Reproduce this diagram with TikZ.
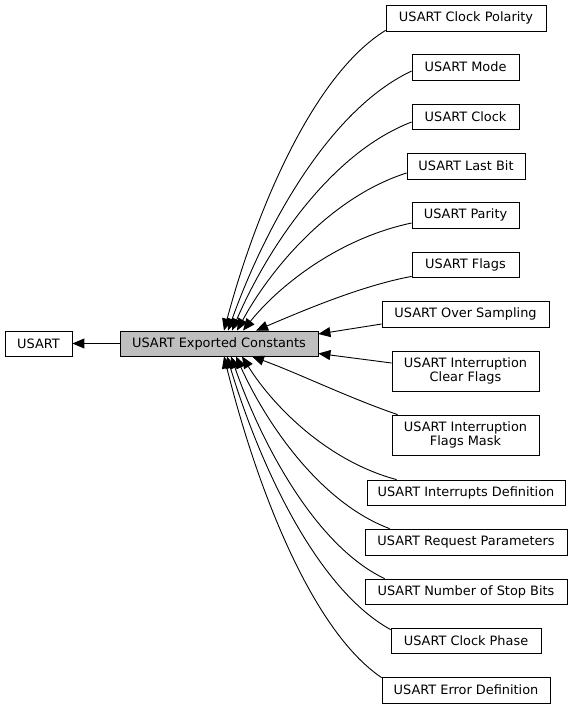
\documentclass[tikz,border=0pt]{standalone}
\usepackage{fontspec}
\setmainfont{DejaVu Sans}
\usetikzlibrary{arrows.meta}
\begin{document}
\begin{tikzpicture}[x=1pt,y=1pt,
  box/.style={draw=black,line width=0.8pt,fill=white,inner sep=0pt,align=center,
    font=\fontsize{12.9}{14}\selectfont,text=black},
  arr/.style={draw=black,line width=0.9pt,-{Triangle[length=12pt,width=10pt]}}]
\useasboundingbox (0,0) rectangle (572,-708);
% nodes
\node[box,minimum width=67pt,minimum height=25pt] (usart) at (38.5,-343.5) {USART};
\node[box,fill={rgb,255:red,191;green,191;blue,191},minimum width=198pt,minimum height=25pt] (ec) at (219,-343.5) {USART Exported Constants};
\node[box,minimum width=160pt,minimum height=26pt] (pol) at (466,-18) {USART Clock Polarity};
\node[box,minimum width=107pt,minimum height=26pt] (mode) at (465.5,-67) {USART Mode};
\node[box,minimum width=107pt,minimum height=25pt] (clk) at (465.5,-116.5) {USART Clock};
\node[box,minimum width=118pt,minimum height=26pt] (lastbit) at (466,-166) {USART Last Bit};
\node[box,minimum width=107pt,minimum height=26pt] (parity) at (465.5,-215) {USART Parity};
\node[box,minimum width=107pt,minimum height=25pt] (flags) at (465.5,-264.5) {USART Flags};
\node[box,minimum width=167pt,minimum height=26pt] (ovs) at (465.5,-314) {USART Over Sampling};
\node[box,minimum width=147pt,minimum height=40pt] (clr) at (465.5,-371) {USART Interruption\\Clear Flags};
\node[box,minimum width=147pt,minimum height=40pt] (fm) at (465.5,-435) {USART Interruption\\Flags Mask};
\node[box,minimum width=198pt,minimum height=25pt] (intdef) at (466,-492.5) {USART Interrupts Definition};
\node[box,minimum width=202pt,minimum height=26pt] (req) at (466,-542) {USART Request Parameters};
\node[box,minimum width=202pt,minimum height=25pt] (stop) at (466,-591.5) {USART Number of Stop Bits};
\node[box,minimum width=150pt,minimum height=25pt] (cph) at (466,-640.5) {USART Clock Phase};
\node[box,minimum width=168pt,minimum height=26pt] (err) at (466,-690) {USART Error Definition};
% edges
\draw[arr] (ec.west) -- (usart.east);
\draw[arr] ([yshift=1pt]pol.south west) .. controls (313,-75) and (256,-211) .. ([xshift=5pt]ec.north);
\draw[arr] ([yshift=-4pt]mode.west) .. controls (329,-110) and (265,-227) .. ([xshift=9pt]ec.north);
\draw[arr] ([yshift=-5.5pt]clk.west) .. controls (331,-153) and (268,-247) .. ([xshift=13pt]ec.north);
\draw[arr] ([yshift=-7pt]lastbit.west) .. controls (331,-197) and (271,-268) .. ([xshift=18pt]ec.north);
\draw[arr] ([yshift=-8pt]parity.west) .. controls (336,-239) and (277,-288) .. ([xshift=24pt]ec.north);
\draw[arr] ([yshift=1pt]flags.south west) .. controls (360,-286) and (300,-312) .. ([xshift=37pt]ec.north);
\draw[arr] ([yshift=-10pt]ovs.west) -- ([yshift=9.5pt]ec.east);
\draw[arr] ([yshift=8pt]clr.west) -- ([yshift=-10pt]ec.east);
\draw[arr] ([xshift=6pt]fm.north west) .. controls (349,-398) and (300,-374) .. ([xshift=33pt]ec.south);
\draw[arr] ([xshift=30pt]intdef.north west) .. controls (327,-461) and (273,-406) .. ([xshift=23pt]ec.south);
\draw[arr] ([xshift=25pt]req.north west) .. controls (321,-503) and (267,-425) .. ([xshift=17pt]ec.south);
\draw[arr] ([xshift=20pt]stop.north west) .. controls (316,-546) and (262,-445) .. ([xshift=12pt]ec.south);
\draw[arr] ([yshift=-2pt]cph.north west) .. controls (317,-589) and (260,-466) .. ([xshift=8pt]ec.south);
\draw[arr] ([yshift=-1pt]err.north west) .. controls (311,-630) and (256,-485) .. ([xshift=5pt]ec.south);
\end{tikzpicture}
\end{document}
